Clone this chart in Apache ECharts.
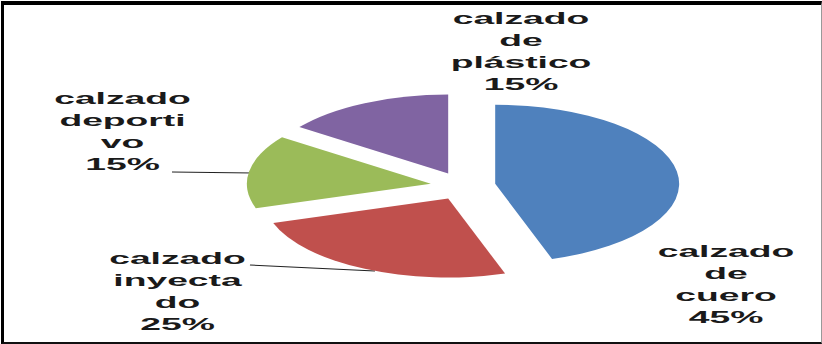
<!DOCTYPE html>
<html>
<head>
<meta charset="utf-8">
<script src="https://cdn.jsdelivr.net/npm/echarts@6/dist/echarts.min.js"></script>
<style>
  html, body { margin:0; padding:0; background:#fff; overflow:hidden; }
  #wrap { position:relative; width:822px; height:344px; overflow:hidden; }
  #chart { position:absolute; left:0; top:0; width:353px; height:344px; transform-origin:0 0; }
  #frame { position:absolute; left:1px; top:1px; width:821px; height:343px; box-sizing:border-box;
           border-top:4px solid #000; border-left:3px solid #000; border-bottom:2px solid #111; border-right:1px solid #999; pointer-events:none; }
</style>
</head>
<body>
<div id="wrap"><div id="chart"></div><div id="frame"></div></div>
<script>
// ---- data ----
const categories = ['calzado de cuero', 'calzado inyectado', 'calzado deportivo', 'calzado de plástico'];
const labelText  = ['calzado\nde\ncuero', 'calzado\ninyecta\ndo', 'calzado\ndeporti\nvo', 'calzado\nde\nplástico'];
const values     = [45, 25, 15, 15];
const colors     = ['#4F81BD', '#C0504D', '#9BBB59', '#8064A2'];

// ---- layout (page pixels; chart is stretched horizontally) ----
const S = 822 / 353;
document.getElementById('chart').style.transform = 'scaleX(' + S + ')';
const labelPos = [[726, 284.5], [177.5, 291.5], [122.5, 131.5], [521, 51.5]];
const leader = [null, [[250, 265], [312, 268], [375, 271]], [[172, 172], [212, 172.5], [253, 173]], null];
const u = x => x / S;

const graphics = [];
categories.forEach((c, i) => {
  graphics.push({
    type: 'text',
    x: u(labelPos[i][0]), y: labelPos[i][1],
    style: {
      text: labelText[i] + '\n' + values[i] + '%',
      fill: '#1a1a1a',
      font: 'bold 16px "Liberation Sans"',
      lineHeight: 22,
      textAlign: 'center',
      textVerticalAlign: 'middle'
    }
  });
  if (leader[i]) {
    graphics.push({
      type: 'polyline',
      shape: { points: leader[i].map(pt => [u(pt[0]), pt[1]]) },
      style: { stroke: '#222', lineWidth: 1, fill: null }
    });
  }
});

const chart = echarts.init(document.getElementById('chart'), null, { renderer: 'svg' });
chart.setOption({
  animation: false,
  graphic: graphics,
  series: [{
    type: 'pie',
    center: [u(463), 186],
    radius: 79,
    startAngle: 90,
    clockwise: true,
    selectedMode: 'multiple',
    selectedOffset: 14,
    emphasis: { disabled: true },
    label: { show: false },
    labelLine: { show: false },
    data: categories.map((c, i) => ({
      name: c,
      value: values[i],
      selected: true,
      itemStyle: { color: colors[i] },
      select: { itemStyle: { color: colors[i] } }
    }))
  }]
});
</script>
</body>
</html>
